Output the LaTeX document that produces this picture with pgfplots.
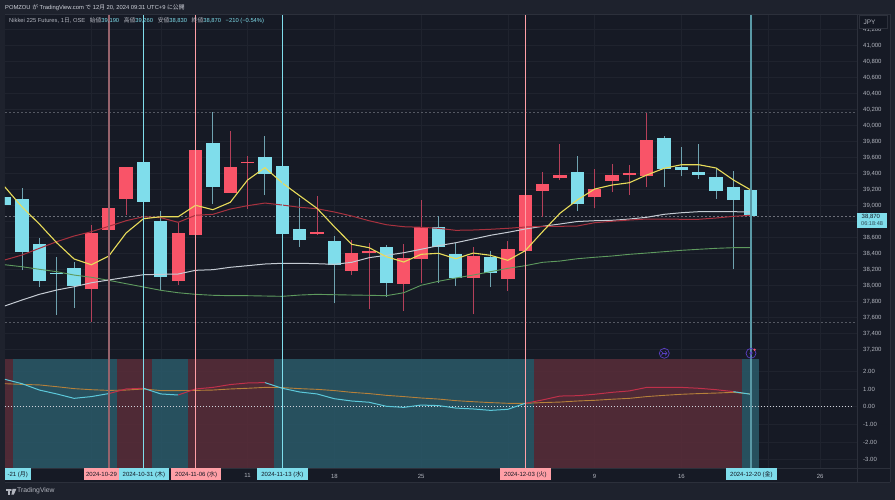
\documentclass[border=0pt]{standalone}
\usepackage{fontspec}
\setmainfont{Liberation Sans}
\newfontfamily\cjk{Noto Sans CJK JP}
\usepackage{pgfplots}
\usepackage{pgfplotstable}
\pgfplotsset{compat=1.18}
\definecolor{outer}{HTML}{1E222D}
\definecolor{panel}{HTML}{161A25}
\definecolor{gridc}{HTML}{1F232E}
\definecolor{sepc}{HTML}{2C303B}
\definecolor{txt}{HTML}{B2B5BE}
\definecolor{title}{HTML}{D1D4DC}
\definecolor{cy}{HTML}{7FDDEB}
\definecolor{rd}{HTML}{F95468}
\definecolor{cyw}{HTML}{6FA3B0}
\definecolor{rdw}{HTML}{B5405A}
\definecolor{pinkc}{HTML}{FF9FA6}
\definecolor{ylw}{HTML}{E8DC5A}
\definecolor{mard}{HTML}{A8323F}
\definecolor{mawh}{HTML}{C5CBD3}
\definecolor{magr}{HTML}{5E9A5E}
\definecolor{sigc}{HTML}{B5803A}
\definecolor{macy}{HTML}{5CC8DA}
\definecolor{mar}{HTML}{C0304A}
\definecolor{bgt}{HTML}{2A5A69}
\definecolor{bgr}{HTML}{5A2D39}
\definecolor{dk}{HTML}{131722}
\definecolor{purp}{HTML}{5B3FC4}

% candles: i top bottom high low
\pgfplotstableread{
i top bot hi lo
5 38655 37955 38759 37550
6 38967 38700 38967 38700
7 39487 39084 39487 38884
10 38655 38055 38787 38008
11 39692 38634 39692 38634
13 39487 39162 39937 39162
14 39546 39530 39621 38955
18 38667 38650 39121 38634
20 38408 38183 38571 38133
21 38430 38412 38537 37705
23 38346 38025 38521 37687
24 38734 38337 39071 38037
27 38371 38100 38487 37642
29 38458 38083 38558 37937
30 39137 38433 39137 38433
31 39267 39187 39421 38855
32 39383 39350 39767 39321
34 39205 39105 39455 38967
35 39387 39312 39521 39171
36 39408 39383 39508 39133
37 39821 39371 40162 39230
}\ups
\pgfplotstableread{
i top bot hi lo
0 39105 39012 39105 39012
1 39087 38421 39217 38196
2 38521 38059 38592 37987
3 38162 38146 38355 37634
4 38221 38000 38300 37721
8 39542 39050 39542 39050
9 38812 38108 38937 37946
12 39783 39230 40167 39021
15 39605 39400 39871 39133
16 39492 38642 39492 38642
17 38708 38571 39100 38487
19 38558 38255 38621 37780
22 38483 38033 38508 37862
25 38734 38487 38871 38030
26 38392 38092 38533 37996
28 38358 38158 38437 37987
33 39421 39021 39625 38933
38 39842 39462 39875 39230
39 39487 39450 39737 39371
40 39421 39387 39771 39337
41 39355 39187 39458 39083
42 39233 39071 39437 38205
43 39190 38870 39260 38830
}\downs
\pgfplotstableread{
i yl rd wh gr
0 39237 38321 37746 38262
1 38984 38383 37821 38237
2 38771 38467 37892 38205
3 38537 38550 37946 38175
4 38334 38621 37987 38133
5 38262 38675 38037 38105
6 38371 38742 38071 38067
7 38659 38812 38105 38025
8 38837 38862 38137 37984
9 38862 38850 38142 37942
10 38862 38792 38146 37912
11 39005 38880 38192 37892
12 38950 38892 38200 37880
13 39042 38958 38230 37875
14 39321 39000 38250 37875
15 39475 39033 38271 37871
16 39284 39008 38280 37867
17 39125 38980 38280 37883
18 38967 38962 38275 37892
19 38737 38921 38267 37887
20 38517 38871 38292 37883
21 38475 38812 38350 37880
22 38362 38762 38380 37875
23 38296 38737 38412 37912
24 38392 38730 38455 38005
25 38405 38717 38500 38055
26 38337 38692 38537 38096
27 38408 38696 38583 38133
28 38380 38705 38630 38175
29 38317 38717 38667 38217
30 38437 38733 38708 38250
31 38675 38742 38742 38292
32 38905 38742 38771 38308
33 39071 38746 38802 38337
34 39208 38787 38812 38355
35 39258 38805 38817 38371
36 39287 38821 38833 38392
37 39383 38833 38855 38408
38 39467 38833 38892 38425
39 39512 38830 38912 38442
40 39512 38830 38925 38455
41 39471 38846 38925 38467
42 39321 38867 38925 38475
43 39196 38880 38921 38475
}\mas
\pgfplotstableread{
i sig
0 1.30
1 1.26
2 1.23
3 1.13
4 1.02
5 0.96
6 0.92
7 0.94
8 1.00
9 0.91
10 0.91
11 0.92
12 0.94
13 1.00
14 1.04
15 1.09
16 1.08
17 1.02
18 0.98
19 0.91
20 0.81
21 0.74
22 0.64
23 0.57
24 0.49
25 0.43
26 0.34
27 0.28
28 0.23
29 0.19
30 0.19
31 0.23
32 0.26
33 0.32
34 0.36
35 0.42
36 0.47
37 0.57
38 0.64
39 0.70
40 0.74
41 0.77
42 0.81
43 0.72
}\sigt
\newcommand{\cbox}[5]{% x1 x2 ypx color text
  \fill[#4] ({#1*1pt},{(500-#3)*1pt}) rectangle ({#2*1pt},{(500-#3-11.7)*1pt});
  \node[anchor=center,inner sep=0pt,text=dk,font=\fontsize{6}{7}\selectfont] at ({(#1+#2)/2*1pt},{(500-#3-6.3)*1pt}) {#5};}
% one candle from row #1 of table #2, wick colour #3, body colour #4
\newcommand{\candle}[4]{%
  \pgfplotstablegetelem{#1}{i}\of#2\edef\cI{\pgfplotsretval}%
  \pgfplotstablegetelem{#1}{top}\of#2\edef\cT{\pgfplotsretval}%
  \pgfplotstablegetelem{#1}{bot}\of#2\edef\cB{\pgfplotsretval}%
  \pgfplotstablegetelem{#1}{hi}\of#2\edef\cH{\pgfplotsretval}%
  \pgfplotstablegetelem{#1}{lo}\of#2\edef\cL{\pgfplotsretval}%
  \addplot[#3,line width=0.9pt,no marks,forget plot] coordinates {(\cI,\cL)(\cI,\cH)};
  \addplot[#4,line width=13.3pt,no marks,forget plot] coordinates {(\cI,\cB)(\cI,\cT)};
}
\begin{document}
\begin{tikzpicture}
\clip (0,0) rectangle (895pt,500pt);
\fill[outer] (0,0) rectangle (895pt,500pt);
\fill[panel] (5pt,18pt) rectangle (890pt,486pt);
\begin{axis}[
  at={(5pt,140.7pt)},anchor=south west,scale only axis,width=852pt,height=345.3pt,
  xmin=0.02,xmax=49.12,ymin=37080,ymax=41396,
  axis line style={draw=none},major tick length=0pt,
  tick style={draw=none},
  xtick={5,9,14,19,24,29,34,39,44,47},xticklabels={},
  ytick={37200,37400,37600,37800,38000,38200,38400,38600,39000,39200,39400,39600,39800,40000,40200,40400,40600,40800,41000,41200},ytick pos=right,yticklabel pos=right,
  scaled y ticks=false,
  grid=major,grid style={gridc,line width=0.5pt},
  /pgf/number format/fixed,/pgf/number format/precision=0,/pgf/number format/1000 sep={,},/pgf/number format/assume math mode=true,
  yticklabel style={font=\fontsize{6}{7}\selectfont,text=txt,xshift=2.7pt},
]
\addplot[gridc,line width=0.5pt,no marks] coordinates {(0.02,38800)(49.12,38800)};
% dashed high, low and last-price lines
\addplot[dash pattern=on 2pt off 2pt,color=txt!40!panel,line width=0.5pt] coordinates {(0.02,40162)(49.12,40162)};
\addplot[dash pattern=on 2pt off 2pt,color=txt!40!panel,line width=0.5pt] coordinates {(0.02,37542)(49.12,37542)};
\addplot[dash pattern=on 2pt off 2pt,color=txt!55!panel,line width=0.6pt] coordinates {(0.02,38870)(49.12,38870)};
% candles
\pgfplotsinvokeforeach{0,...,20}{\candle{#1}{\ups}{rdw}{rd}}
\pgfplotsinvokeforeach{0,...,22}{\candle{#1}{\downs}{cyw}{cy}}
% moving averages
\addplot[magr,line width=0.9pt,no marks] table[x=i,y=gr] {\mas};
\addplot[mawh,line width=1pt,no marks] table[x=i,y=wh] {\mas};
\addplot[mard,line width=1pt,no marks] table[x=i,y=rd] {\mas};
\addplot[ylw,line width=1.1pt,no marks] table[x=i,y=yl] {\mas};
% signal lines
\addplot[color=pinkc!55!panel,line width=2pt,no marks] coordinates {(6,37000)(6,41400)};
\addplot[cy,line width=0.9pt,no marks] coordinates {(8,37000)(8,41400)};
\addplot[pinkc,line width=0.9pt,no marks] coordinates {(11,37000)(11,41400)};
\addplot[cy,line width=0.9pt,no marks] coordinates {(16,37000)(16,41400)};
\addplot[pinkc,line width=0.9pt,no marks] coordinates {(30,37000)(30,41400)};
\addplot[color=cy!65!panel,line width=1.6pt,no marks] coordinates {(43,37000)(43,41400)};
\end{axis}
\begin{axis}[
  at={(5pt,31.3pt)},anchor=south west,scale only axis,width=852pt,height=109.4pt,
  xmin=0.02,xmax=49.12,ymin=-3.51,ymax=2.68,
  axis line style={draw=none},major tick length=0pt,
  tick style={draw=none},
  xtick={5,9,14,19,24,29,34,39,44,47},
  xticklabels={,,11,18,25,,9,16,,26},
  xticklabel style={font=\fontsize{6}{7}\selectfont,text=txt,yshift=-1.6pt},
  xtick pos=bottom,
  ytick={-3,-2,-1,0,1,2},ytick pos=right,yticklabel pos=right,
  grid=major,grid style={gridc,line width=0.5pt},
  /pgf/number format/fixed,/pgf/number format/fixed zerofill,/pgf/number format/precision=2,/pgf/number format/assume math mode=true,
  yticklabel style={font=\fontsize{6}{7}\selectfont,text=txt,xshift=2.7pt,anchor=west},
]
\addplot[fill=bgr,fill opacity=0.85,draw=none] coordinates {(0.02,-3.51)(0.5,-3.51)(0.5,2.68)(0.02,2.68)} -- cycle;
\addplot[fill=bgt,fill opacity=0.85,draw=none] coordinates {(0.5,-3.51)(6.5,-3.51)(6.5,2.68)(0.5,2.68)} -- cycle;
\addplot[fill=bgr,fill opacity=0.85,draw=none] coordinates {(6.5,-3.51)(8.5,-3.51)(8.5,2.68)(6.5,2.68)} -- cycle;
\addplot[fill=bgt,fill opacity=0.85,draw=none] coordinates {(8.5,-3.51)(10.55,-3.51)(10.55,2.68)(8.5,2.68)} -- cycle;
\addplot[fill=bgr,fill opacity=0.85,draw=none] coordinates {(10.55,-3.51)(15.5,-3.51)(15.5,2.68)(10.55,2.68)} -- cycle;
\addplot[fill=bgt,fill opacity=0.85,draw=none] coordinates {(15.5,-3.51)(30.5,-3.51)(30.5,2.68)(15.5,2.68)} -- cycle;
\addplot[fill=bgr,fill opacity=0.85,draw=none] coordinates {(30.5,-3.51)(42.5,-3.51)(42.5,2.68)(30.5,2.68)} -- cycle;
\addplot[fill=bgt,fill opacity=0.85,draw=none] coordinates {(42.5,-3.51)(43.5,-3.51)(43.5,2.68)(42.5,2.68)} -- cycle;
\addplot[dash pattern=on 1pt off 2pt,color=title,line width=0.6pt] coordinates {(0.02,0)(48.9,0)};
\addplot[sigc,line width=0.9pt,no marks] table[x=i,y=sig] {\sigt};
\addplot[macy,line width=1pt,no marks] coordinates {(0,1.55)(1,1.30)(2,0.94)(3,0.72)(4,0.47)(5,0.57)(6,0.74)};
\addplot[mar,line width=1pt,no marks] coordinates {(6,0.74)(7,1.00)(8,1.04)};
\addplot[macy,line width=1pt,no marks] coordinates {(8,1.04)(9,0.72)(10,0.66)};
\addplot[mar,line width=1pt,no marks] coordinates {(10,0.66)(11,1.00)(12,1.09)(13,1.25)(14,1.34)(15,1.36)};
\addplot[macy,line width=1pt,no marks] coordinates {(15,1.36)(16,1.04)(17,0.83)(18,0.72)(19,0.45)(20,0.32)(21,0.25)(22,0.02)(23,-0.04)(24,0.09)(25,0.06)(26,-0.08)(27,-0.13)(28,-0.21)(29,-0.15)(30,0.19)};
\addplot[mar,line width=1pt,no marks] coordinates {(30,0.19)(31,0.38)(32,0.60)(33,0.62)(34,0.70)(35,0.81)(36,0.89)(37,1.09)(38,1.09)(39,1.09)(40,1.04)(41,0.96)(42,0.85)};
\addplot[macy,line width=1pt,no marks] coordinates {(42,0.85)(43,0.70)};
\addplot[color=pinkc!55!panel,line width=2pt,no marks] coordinates {(6,-4)(6,3)};
\addplot[cy,line width=0.9pt,no marks] coordinates {(8,-4)(8,3)};
\addplot[pinkc,line width=0.9pt,no marks] coordinates {(11,-4)(11,3)};
\addplot[cy,line width=0.9pt,no marks] coordinates {(16,-4)(16,3)};
\addplot[pinkc,line width=0.9pt,no marks] coordinates {(30,-4)(30,3)};
\addplot[color=cy!65!panel,line width=1.6pt,no marks] coordinates {(43,-4)(43,3)};
\end{axis}
% panel separators
\draw[sepc,line width=0.6pt] (857pt,18pt) -- (857pt,486pt);
\draw[sepc,line width=0.6pt] (890pt,18pt) -- (890pt,486pt);
\draw[sepc,line width=0.6pt] (5pt,31.3pt) -- (890pt,31.3pt);
\draw[sepc,line width=0.6pt] (5pt,18pt) -- (890pt,18pt);
\draw[sepc,line width=0.6pt] (5pt,486pt) -- (890pt,486pt);
% header
\node[anchor=west,inner sep=0pt,text=title,font=\fontsize{5.8}{7}\selectfont] at (5pt,492.7pt) {POMZOU {\cjk が} TradingView.com {\cjk で} 12{\cjk 月} 20, 2024 09:31 UTC+9 {\cjk に公開}};
\node[anchor=west,inner sep=0pt,text=txt,font=\fontsize{5.8}{7}\selectfont] at (9pt,479.3pt) {Nikkei 225 Futures, 1{\cjk 日}, OSE\hspace{3pt} {\cjk 始値}\textcolor{cy}{39,190}\hspace{3pt} {\cjk 高値}\textcolor{cy}{39,260}\hspace{3pt} {\cjk 安値}\textcolor{cy}{38,830}\hspace{3pt} {\cjk 終値}\textcolor{cy}{38,870}\hspace{3pt} \textcolor{cy}{−210 (−0.54\%)}};
% JPY box
\fill[dk,draw=sepc,line width=0.5pt] (859.5pt,485pt) rectangle (887.7pt,471.7pt);
\node[text=txt,inner sep=0pt,font=\fontsize{6.5}{7}\selectfont] at (869.5pt,478pt) {JPY};
% last price box
\fill[cy] (857.3pt,287.3pt) rectangle (887.3pt,271.7pt);
\node[anchor=west,text=dk,inner sep=0pt,font=\fontsize{6}{7}\selectfont] at (861.5pt,283.4pt) {38,870};
\node[anchor=west,text=dk!75!cy,inner sep=0pt,font=\fontsize{5.6}{6}\selectfont] at (861pt,276pt) {06:18:48};
% date tags
\cbox{5}{30.5}{468.5}{cy}{-21 ({\cjk 月})}
\cbox{83.5}{119}{468.5}{pinkc}{\hspace{0.5pt}2024-10-29}
\cbox{118.7}{169}{468.5}{cy}{2024-10-31 ({\cjk 木})}
\cbox{171}{221.3}{468.5}{pinkc}{2024-11-06 ({\cjk 水})}
\cbox{257}{307.7}{468.5}{cy}{2024-11-13 ({\cjk 水})}
\cbox{500}{550.7}{468.5}{pinkc}{2024-12-03 ({\cjk 火})}
\cbox{726}{776.7}{468.5}{cy}{2024-12-20 ({\cjk 金})}
% event icons
\draw[purp,line width=0.7pt] (664.3pt,146.7pt) circle (5pt);
\draw[purp,line width=0.6pt] (661.5pt,146.7pt) -- (667pt,146.7pt);
\draw[purp,line width=0.6pt] (665pt,148.8pt) -- (667pt,146.7pt) -- (665pt,144.6pt);
\draw[purp,line width=0.6pt] (661.2pt,148.8pt) -- (663.2pt,146.7pt) -- (661.2pt,144.6pt);
\draw[purp,line width=0.7pt] (751pt,146.7pt) circle (5pt);
\fill[purp] (751.8pt,150pt) -- (749.2pt,146.3pt) -- (750.8pt,146.3pt) -- (750.2pt,143.4pt) -- (752.8pt,147.3pt) -- (751.2pt,147.3pt) -- cycle;
\fill[rd] (754.6pt,150.2pt) circle (1.3pt);
% footer
\fill[txt] (5.5pt,11pt) rectangle (11pt,9pt);
\fill[txt] (8pt,9pt) rectangle (10pt,5.3pt);
\fill[txt] (12.5pt,11pt) -- (16.3pt,11pt) -- (13.8pt,5.3pt) -- (11.4pt,5.3pt) -- cycle;
\fill[txt] (11pt,10pt) circle (0.9pt);
\node[anchor=west,inner sep=0pt,text=txt,font=\fontsize{6.8}{8}\selectfont] at (17pt,9pt) {TradingView};
\end{tikzpicture}
\end{document}
